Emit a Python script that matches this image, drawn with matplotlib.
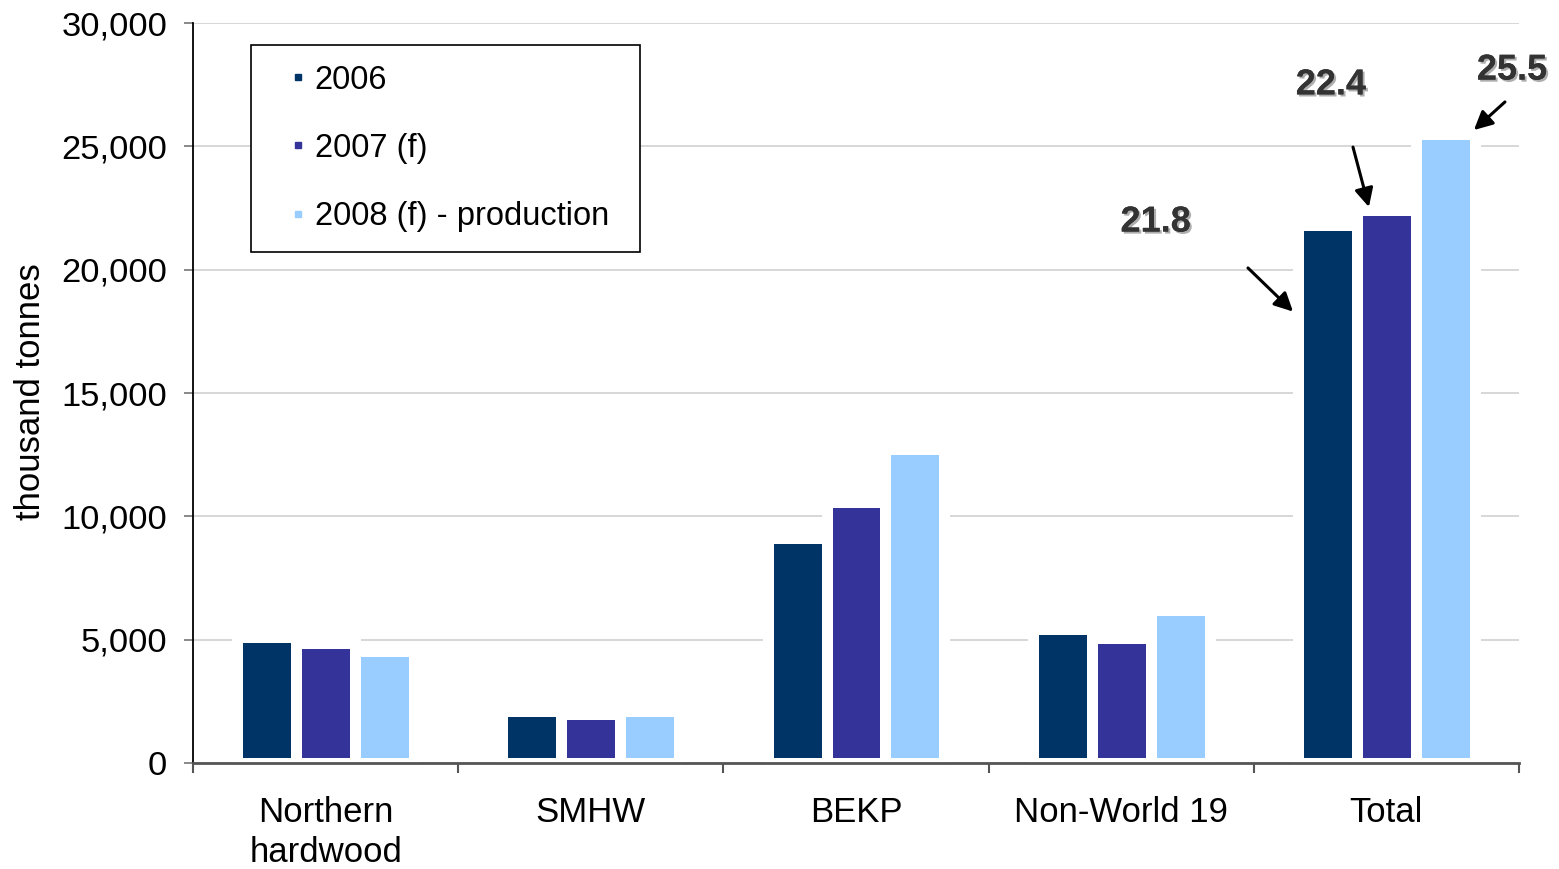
import matplotlib
matplotlib.use("Agg")
import matplotlib.pyplot as plt
import matplotlib.patheffects as pe
from matplotlib.lines import Line2D
import numpy as np

plt.rcParams['font.family'] = ['Liberation Sans', 'DejaVu Sans']

# Data (thousand tonnes)
categories = ["Northern\nhardwood", "SMHW", "BEKP", "Non-World 19", "Total"]
series_names = ["2006", "2007 (f)", "2008 (f) - production"]
values_2006 = [5100, 2100, 9130, 5440, 21800]
values_2007 = [4850, 1990, 10600, 5080, 22400]
values_2008 = [4540, 2100, 12730, 6190, 25500]
total_labels = ["21.8", "22.4", "25.5"]

colors = ["#003366", "#333399", "#99CCFF"]
series = [values_2006, values_2007, values_2008]

W, H, DPI = 1559, 869, 100
fig = plt.figure(figsize=(W / DPI, H / DPI), dpi=DPI)
ax = fig.add_axes([193 / W, 106 / H, 1326 / W, 740 / H])

x = np.arange(len(categories))
bw = 0.222
edge_pt = 11 * 72 / DPI  # white outline around each bar

for i, (vals, col) in enumerate(zip(series, colors)):
    ax.bar(x + (i - 1) * bw, vals, width=bw, color=col,
           edgecolor="white", linewidth=edge_pt, zorder=2)

ax.set_xlim(-0.5, len(categories) - 0.5)
ax.set_ylim(0, 30000)
ax.set_yticks(np.arange(0, 30001, 5000))
ax.set_yticklabels([f"{v:,}" for v in range(0, 30001, 5000)])
ax.set_axisbelow(True)
ax.yaxis.grid(True, color="#d4d4d4", linewidth=1.3)

# category labels at centres, tick marks at the boundaries
ax.set_xticks(x)
ax.set_xticklabels(categories, linespacing=1.28)
ax.set_xticks(np.arange(-0.5, len(categories), 1.0), minor=True)
ax.tick_params(axis="x", which="major", length=0, pad=23.5, labelsize=25)
ax.tick_params(axis="x", which="minor", length=7.5, width=1.5, color="#555555")
ax.tick_params(axis="y", which="major", length=6.5, width=1.3, color="#808080",
               pad=12, labelsize=24.8)

for s in ("top", "right"):
    ax.spines[s].set_visible(False)
ax.spines["left"].set_color("black")
ax.spines["left"].set_linewidth(1.3)
ax.spines["bottom"].set_color("#555555")
ax.spines["bottom"].set_linewidth(2)
ax.spines["left"].set_zorder(3)
ax.spines["bottom"].set_zorder(3)

fig.text(31 / W, 1 - 392 / H, "thousand tonnes", rotation=90,
         ha="center", va="center", fontsize=25)

# legend
handles = [Line2D([], [], linestyle="none", marker="s", markersize=5,
                  markerfacecolor=c, markeredgecolor=c) for c in colors]
lx0 = (251 - 193) / 1326
lw_ = (640 - 251) / 1326
ltop = (763 - 45) / 740
lh = (250 - 45) / 740
leg = ax.legend(handles, series_names, loc="upper left", mode="expand",
                bbox_to_anchor=(lx0, ltop - lh, lw_, lh),
                fontsize=23.5, frameon=True, fancybox=False, framealpha=1,
                edgecolor="black", handlelength=1.65, handletextpad=-0.3,
                labelspacing=1.14, borderpad=0.6, borderaxespad=0)
leg.get_frame().set_linewidth(1.2)
leg.set_zorder(5)

# annotations on the totals
t = len(categories) - 1
shadow = [pe.withSimplePatchShadow(offset=(1.5, -1.5), shadow_rgbFace="#9a9a9a", alpha=0.8),
          pe.Normal()]
arrow = dict(arrowstyle="-|>", color="black", lw=2.2, mutation_scale=28,
             shrinkA=0, shrinkB=0)

# 2006 total
x0 = t - bw
ax.annotate("", xy=(x0 - 0.13, values_2006[t] - 3500),
            xytext=(x0 - 0.30, values_2006[t] - 1730), arrowprops=arrow, zorder=6)
ax.text(x0 - 0.648, values_2006[t] + 130, total_labels[0], fontsize=26,
        fontweight="bold", color="#333333", ha="center", va="center",
        path_effects=shadow, zorder=6)

# 2007 total
x1 = t
ax.annotate("", xy=(x1 - 0.066, values_2007[t] + 140),
            xytext=(x1 - 0.126, values_2007[t] + 2570), arrowprops=arrow, zorder=6)
ax.text(x1 - 0.209, values_2007[t] + 5090, total_labels[1], fontsize=26,
        fontweight="bold", color="#333333", ha="center", va="center",
        path_effects=shadow, zorder=6)

# 2008 total
x2 = t + bw
ax.annotate("", xy=(x2 + 0.108, values_2008[t] + 160),
            xytext=(x2 + 0.225, values_2008[t] + 1300), arrowprops=arrow, zorder=6)
ax.text(x2 + 0.252, values_2008[t] + 2590, total_labels[2], fontsize=26,
        fontweight="bold", color="#333333", ha="center", va="center",
        path_effects=shadow, zorder=6, clip_on=False)

fig.savefig("out.png", dpi=DPI)
